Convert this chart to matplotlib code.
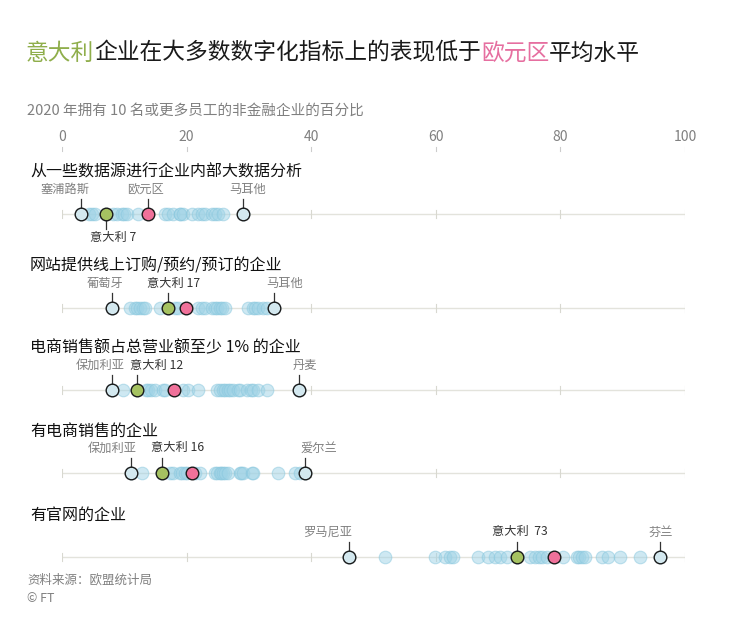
import matplotlib
matplotlib.use("Agg")
import matplotlib.pyplot as plt

plt.rcParams['font.family'] = ['Noto Sans CJK SC', 'DejaVu Sans']

# data (percent of non-financial enterprises with 10+ employees, 2020)
row_titles = [
    '从一些数据源进行企业内部大数据分析',
    '网站提供线上订购/预约/预订的企业',
    '电商销售额占总营业额至少 1% 的企业',
    '有电商销售的企业',
    '有官网的企业',
]
countries_1 = [3, 4.4, 4.8, 5.3, 7, 8.2, 8.8, 9.6, 10, 10.4, 12.2, 16.5, 17, 17.8,
               18.9, 19, 19.4, 20.9, 21.8, 22.5, 23, 24.1, 24.5, 25, 25.8, 29]
countries_2 = [8, 10.9, 11.7, 12, 12.5, 13, 13.4, 15.7, 17, 18.1, 18.6, 21.9, 22.5, 23,
               24.1, 24.5, 24.9, 25.3, 25.7, 26.2, 29.9, 30.7, 31, 31.5, 32.3, 32.9, 34]
countries_3 = [8, 9.8, 12, 13.5, 13.8, 14.3, 14.9, 16.2, 16.6, 19.5, 20.3, 21.9, 24.9, 25.3,
               25.8, 26.2, 26.6, 27, 27.4, 28.2, 28.5, 29.7, 30.3, 30.7, 31.5, 32.9, 38]
countries_4 = [11, 12.8, 16, 17.3, 17.8, 18.9, 19.3, 19.7, 20, 21.3, 22.1, 24.5, 24.8, 25.3,
               25.5, 25.9, 26.2, 26.7, 28.6, 28.8, 29.0, 30.5, 30.7, 34.7, 37.4, 38.2, 39]
countries_5 = [46, 51.8, 59.9, 61.5, 62.3, 62.8, 66.8, 68.4, 69.5, 70.3, 71.4, 73, 75.1, 75.9,
               76.5, 77, 77.8, 80.4, 82.6, 83.0, 83.4, 83.9, 86.6, 87.6, 89.6, 92.8, 96]
all_countries = [countries_1, countries_2, countries_3, countries_4, countries_5]
italy = [7, 17, 12, 16, 73]
eurozone = [13.8, 19.9, 17.9, 20.8, 78.9]
min_names = ['塞浦路斯', '葡萄牙', '保加利亚', '保加利亚', '罗马尼亚']
max_names = ['马耳他', '马耳他', '丹麦', '爱尔兰', '芬兰']
x_ticks = [0, 20, 40, 60, 80, 100]

W, H = 750, 632
fig = plt.figure(figsize=(W / 100, H / 100), dpi=100)
# axes: x in data units (0..100 across px 62..685), y in pixels from the top
ax = fig.add_axes([62 / W, 0, (685 - 62) / W, 1])
ax.set_xlim(0, 100)
ax.set_ylim(H, 0)
ax.axis('off')

px = 100 / (685 - 62)  # data units per pixel

grey = '#808080'
light_fill = '#9fd3e6'
light_edge = '#86c6dd'
ext_fill = '#d3e8ef'
green = '#a5c261'
pink = '#f0719a'

# title, in colour pieces
fig.canvas.draw()
renderer = fig.canvas.get_renderer()
title_parts = [('意大利', '#8fae4b'), ('企业在大多数数字化指标上的表现低于', '#1a1a1a'),
               ('欧元区', '#e66fa0'), ('平均水平', '#1a1a1a')]
tx = 26 / W
for txt, col in title_parts:
    t = fig.text(tx, 1 - 53 / H, txt, fontsize=16.4, color=col, va='center', ha='left',
                 fontweight='light')
    bb = t.get_window_extent(renderer=renderer)
    tx += bb.width / W

fig.text(27 / W, 1 - 111 / H, '2020 年拥有 10 名或更多员工的非金融企业的百分比',
         fontsize=10.5, color=grey, va='center')

for v in x_ticks:
    ax.text(v, 137, str(v), fontsize=10, color=grey, ha='center', va='center')
    ax.plot([v, v], [147, 151], color='#cccccc', lw=0.8)

line_y = [214, 308, 390, 473, 557]
# label shifts in px so neighbouring labels do not collide
min_shift = [-16, -7, -12, -18, -21]
max_shift = [5, 11, 6, 14, 1]
italy_shift = [8, 6, 20, 16, 3]
r = 6.3  # circle radius, px
ms = 2 * r * 0.72

for i, ly in enumerate(line_y):
    vals = all_countries[i]
    ax.text(-32 * px, ly - 42, row_titles[i], fontsize=11.5, color='#111111',
            ha='left', va='center')
    ax.plot([0, 100], [ly, ly], color='#e3e3dc', lw=1, zorder=1)
    for v in x_ticks:
        ax.plot([v, v], [ly - 4, ly + 4], color='#d8d8d0', lw=0.8, zorder=1)

    ax.plot(vals, [ly] * len(vals), 'o', ms=ms, mfc=light_fill, mec=light_edge,
            mew=0.8, alpha=0.5, zorder=2, linestyle='none')

    lo, hi = min(vals), max(vals)
    for v, name, sh in [(lo, min_names[i], min_shift[i]), (hi, max_names[i], max_shift[i])]:
        ax.plot([v], [ly], 'o', ms=ms, mfc=ext_fill, mec='#1a1a1a', mew=1, zorder=4)
        ax.plot([v, v], [ly - r, ly - 15], color='#333333', lw=0.9, zorder=3)
        ax.text(v + sh * px, ly - 25, name, fontsize=8.8, color=grey,
                ha='center', va='center')

    ax.plot([eurozone[i]], [ly], 'o', ms=ms, mfc=pink, mec='#1a1a1a', mew=1, zorder=5)
    ax.plot([italy[i]], [ly], 'o', ms=ms, mfc=green, mec='#1a1a1a', mew=1, zorder=5)

    ix = italy[i] + italy_shift[i] * px
    if i == 0:
        ax.plot([italy[i]] * 2, [ly + r, ly + 15], color='#333333', lw=0.9)
        ax.text(ix, ly + 24, '意大利 %d' % italy[i], fontsize=8.8,
                color='#333333', ha='center', va='center')
        ax.plot([eurozone[i]] * 2, [ly - r, ly - 15], color='#333333', lw=0.9)
        ax.text(eurozone[i] - 2 * px, ly - 25, '欧元区', fontsize=8.8, color=grey,
                ha='center', va='center')
    else:
        sep = '  ' if i == 4 else ' '
        ax.plot([italy[i]] * 2, [ly - r, ly - 15], color='#333333', lw=0.9)
        ax.text(ix, ly - 25, '意大利' + sep + str(italy[i]), fontsize=8.8,
                color='#333333', ha='center', va='center')

fig.text(27 / W, 1 - 580 / H, '资料来源：欧盟统计局', fontsize=9, color=grey, va='center')
fig.text(27 / W, 1 - 598 / H, '© FT', fontsize=9, color=grey, va='center', style='italic')

fig.savefig('out.png', dpi=100)
